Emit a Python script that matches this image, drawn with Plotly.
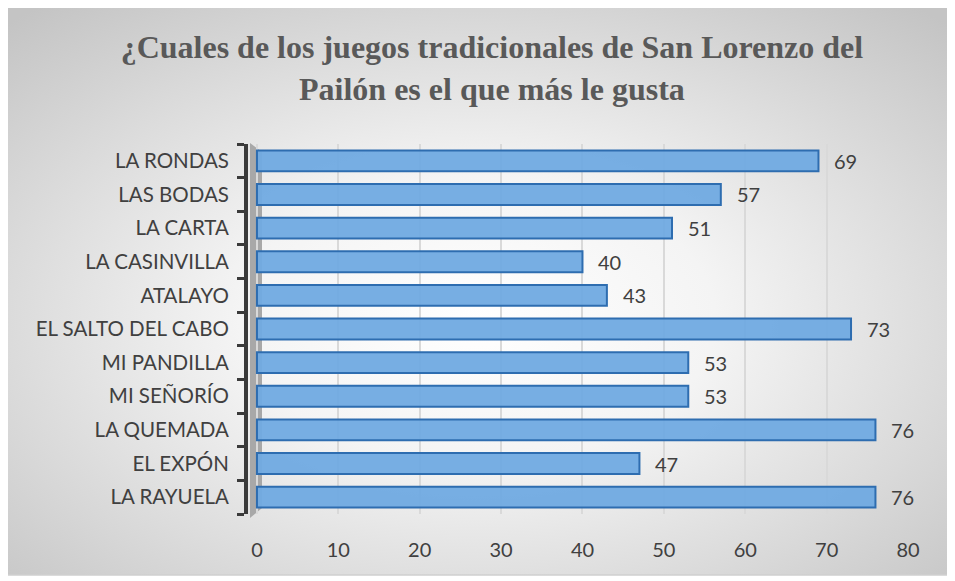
import base64
import plotly.graph_objects as go

categories = ["LA RAYUELA", "EL EXPÓN", "LA QUEMADA", "MI SEÑORÍO", "MI PANDILLA",
              "EL SALTO DEL CABO", "ATALAYO", "LA CASINVILLA", "LA CARTA",
              "LAS BODAS", "LA RONDAS"]
values = [76, 47, 76, 53, 53, 73, 43, 40, 51, 57, 69]
x_ticks = [0, 10, 20, 30, 40, 50, 60, 70, 80]
title_text = "<b>¿Cuales de los juegos tradicionales de San Lorenzo del<br>Pailón es el que más le gusta</b>"

OFF = 8  # page body margin
W, H = 955 - OFF, 581 - OFF
ML, MR, MT, MB = 248 - OFF, 955 - 908, 144 - OFF, 581 - 514

PW, PH = W - ML - MR, H - MT - MB

def px_x(p):  # absolute screen px -> paper
    return (p - OFF - ML) / PW

def px_y(p):
    return 1 - (p - OFF - MT) / PH

svg = """<svg xmlns='http://www.w3.org/2000/svg' width='945' height='568'>
<defs><radialGradient id='g' cx='50%' cy='55%' r='72%'>
<stop offset='0%' stop-color='#ffffff'/>
<stop offset='35%' stop-color='#f4f4f4'/>
<stop offset='100%' stop-color='#c4c4c4'/>
</radialGradient></defs>
<rect width='945' height='568' fill='url(#g)'/></svg>"""
bg_src = "data:image/svg+xml;base64," + base64.b64encode(svg.encode()).decode()

sans = "Lato, Open Sans, sans-serif"

fig = go.Figure()
fig.add_trace(go.Bar(
    y=categories, x=values, orientation="h", width=0.62,
    marker=dict(color="rgba(112,170,226,0.95)", line=dict(color="#2E6DB0", width=2)),
    hoverinfo="skip", showlegend=False,
))

annotations = []
for c, v in zip(categories, values):
    annotations.append(dict(x=v, y=c, xref="x", yref="y", text=str(v), showarrow=False,
                            xanchor="left", xshift=14,
                            font=dict(family=sans, size=20, color="#404040")))

fig.update_layout(
    width=W, height=H,
    margin=dict(l=ML, r=MR, t=MT, b=MB),
    paper_bgcolor="white",
    plot_bgcolor="rgba(0,0,0,0)",
    title=dict(text=title_text, x=0.511, xanchor="center", y=1 - 50 / H, yanchor="middle",
               yref="container",
               font=dict(family="Times New Roman, Liberation Serif, DejaVu Serif, serif",
                         size=32, color="#595959")),
    xaxis=dict(range=[-1.1, 80], tickvals=x_ticks, showgrid=True, gridcolor="#D9D9D9",
               gridwidth=1.5, zeroline=False, showline=False, ticks="",
               ticklabelstandoff=22,
               tickfont=dict(family=sans, size=20, color="#404040")),
    yaxis=dict(categoryorder="array", categoryarray=categories, range=[-0.5, 10.5],
               showline=True, linecolor="#3a3a3a", linewidth=4, ticks="outside",
               ticklen=7, tickwidth=3, tickcolor="#3a3a3a", tickson="boundaries",
               ticklabelstandoff=11, showgrid=False,
               tickfont=dict(family=sans, size=20.5, color="#404040")),
    images=[dict(source=bg_src, xref="paper", yref="paper",
                 x=px_x(5), y=px_y(7), sizex=945 / PW, sizey=568 / PH,
                 sizing="stretch", layer="below", xanchor="left", yanchor="top")],
    shapes=[
        dict(type="rect", xref="paper", yref="paper", x0=px_x(5), x1=px_x(950),
             y0=px_y(575), y1=px_y(7), line=dict(color="#D0D0D0", width=1.5), layer="below"),
        dict(type="path", xref="paper", yref="paper",
             path=f"M {px_x(250)},{px_y(143)} L {px_x(262)},{px_y(152)} L {px_x(262)},{px_y(508)} L {px_x(250)},{px_y(518)} Z",
             fillcolor="#A8A8A8", line=dict(width=0), layer="below"),
    ],
    annotations=annotations,
)

fig.write_html("out.html")
